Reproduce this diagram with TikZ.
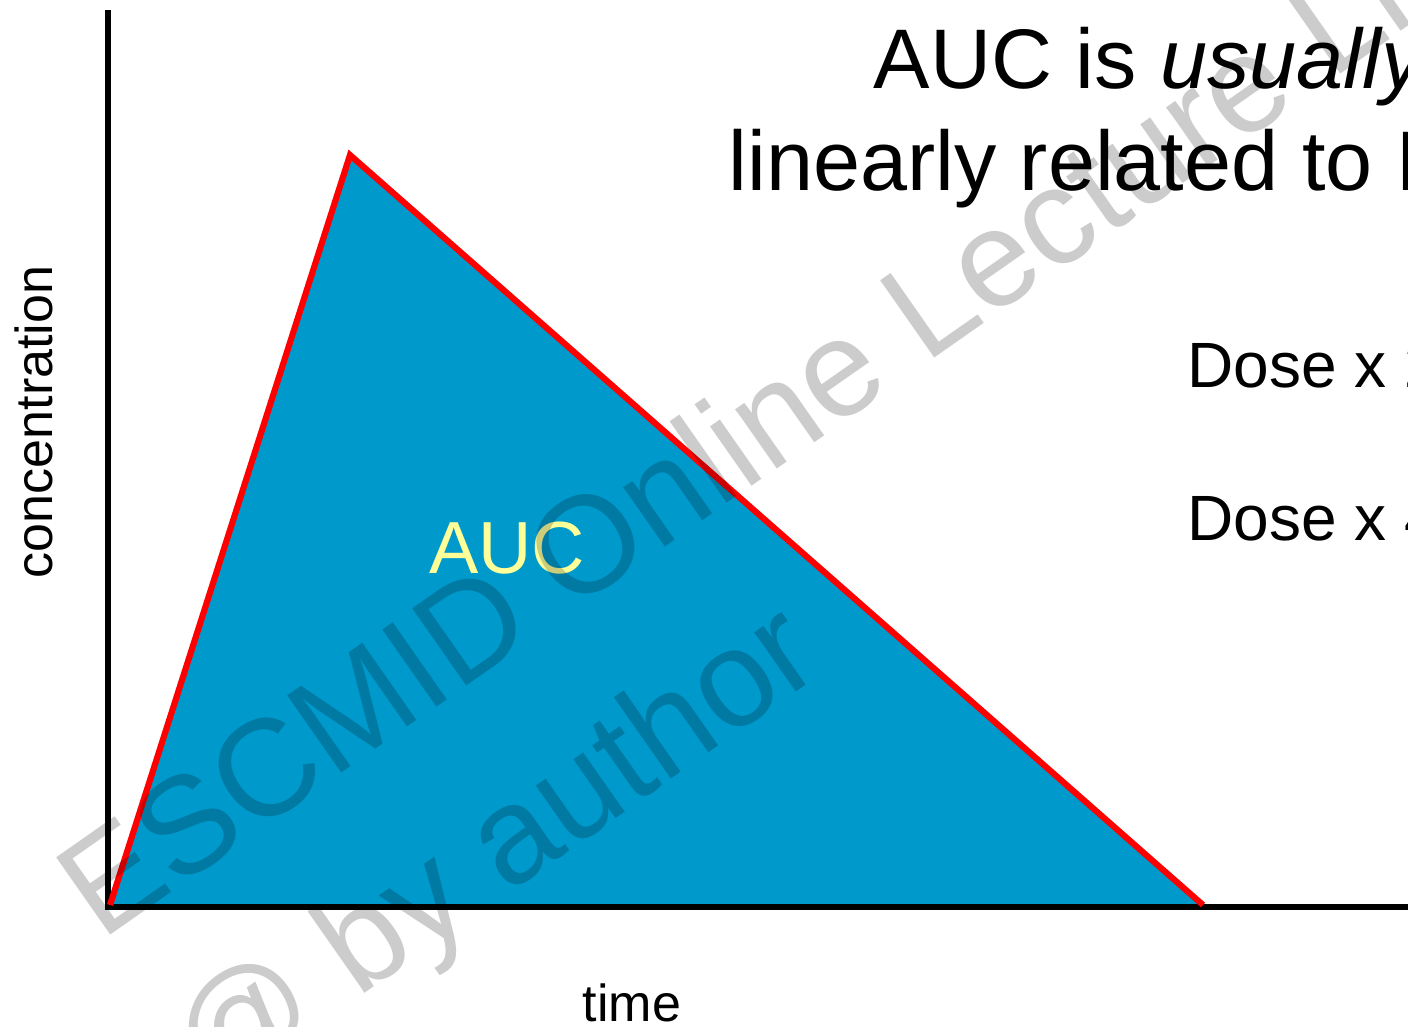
\documentclass[tikz,border=0pt]{standalone}
\usepackage{fontspec}
\setmainfont{Liberation Sans}
\usepackage{tikz}
\usetikzlibrary{positioning}

\definecolor{aucblue}{RGB}{0,153,204}
\definecolor{auclabel}{RGB}{255,255,153}

\begin{document}
\begin{tikzpicture}[
    x=0.01cm, y=-0.01cm,
    axis/.style={line width=1.45pt, black},
    curve/.style={line width=1.75pt, red, line join=miter},
    title/.style={inner sep=0pt, anchor=base west, font=\fontsize{24.05}{28}\selectfont},
    dose/.style={inner sep=0pt, anchor=base west, font=\fontsize{18.2}{22}\selectfont},
    axlabel/.style={inner sep=0pt, anchor=base, font=\fontsize{14.8}{18}\selectfont},
    wmtext/.style={inner sep=0pt, anchor=base west, rotate=35, black, opacity=0.2,
                 font=\fontsize{39}{46}\selectfont}
]
\useasboundingbox (0,0) rectangle (1408,1027);
\clip (0,0) rectangle (1408,1027);
% Curve points
\coordinate (start) at (110,905);
\coordinate (peak) at (350,155);
\coordinate (end) at (1203,905);
% Area under the curve
\fill [aucblue] (start) -- (peak) -- (end) -- cycle;
% Axes
\coordinate (ytop) at (108,10);
\coordinate (orig) at (108,907);
\coordinate (xend) at (1410,907);
\draw [axis] (ytop) -- (orig) -- (xend);
% Curve
\draw [curve] (start) -- (peak) -- (end);
% Labels
\node (auc) [inner sep=0pt, anchor=base, auclabel, font=\fontsize{21}{25}\selectfont] at (507,573) {AUC};
\node (ylabel) [axlabel, rotate=90] at (52,422) {concentration};
\node (xlabel) [axlabel] at (632,1021) {time};
\node (title1) [title] at (873,88) {AUC is \textit{usually}};
\node (title2) [title] at (728,190) {linearly related to Dose};
\node (dose2) [dose] at (1187,387) {Dose x 2};
\node (dose4) [dose] at (1187,540) {Dose x 4};
% Watermark
\node (wm1) [wmtext] at (101,942) {ESCMID Online Lecture Library};
\node (wm2) [wmtext] at (212,1101) {@ by author};
\end{tikzpicture}
\end{document}
